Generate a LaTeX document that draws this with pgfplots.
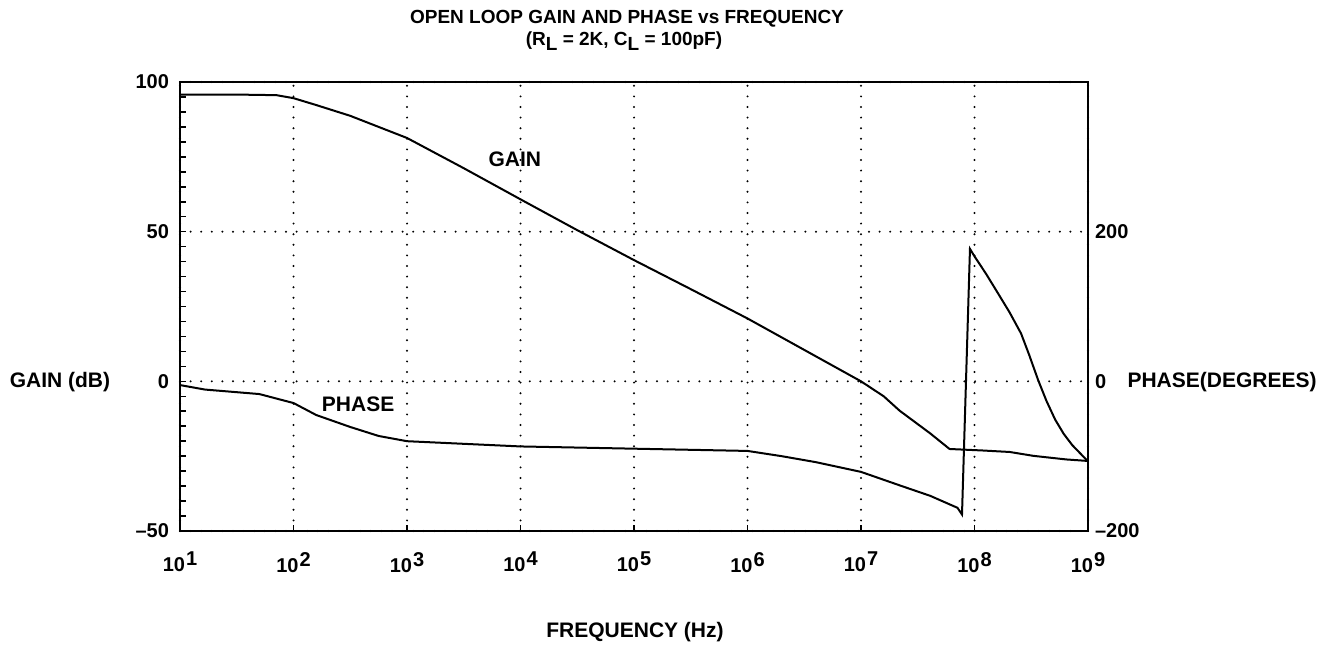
\documentclass[border=0pt]{standalone}
\usepackage{fontspec}
\setmainfont{Liberation Sans}
\usepackage{pgfplots}
\pgfplotsset{compat=1.18}
\newcommand{\tf}{\fontsize{10}{11}\selectfont\bfseries}
\newcommand{\lf}{\fontsize{10.5}{12}\selectfont\bfseries}
\newcommand{\ttf}{\fontsize{9.5}{11}\selectfont\bfseries}
\newcommand{\dec}[1]{10\kern0.5pt\raisebox{3pt}{#1}}
\begin{document}
\begin{tikzpicture}
\path[use as bounding box] (-90pt,-58pt) rectangle (578pt,265.5pt);
\begin{semilogxaxis}[
  at={(0pt,0pt)}, anchor=south west,
  scale only axis, width=454pt, height=224.5pt,
  xmin=10, xmax=1e9, ymin=-50, ymax=100,
  xtick={1e1,1e2,1e3,1e4,1e5,1e6,1e7,1e8,1e9},
  xticklabels={\dec{1},\dec{2},\dec{3},\dec{4},\dec{5},\dec{6},\dec{7},\dec{8},\dec{9}},
  xminorticks=false,
  ytick={-50,0,50,100},
  yticklabels={--50,0,50,100},
  minor ytick={-45,-40,...,95},
  xtick pos=bottom, ytick pos=left, tick align=inside,
  major tick length=3pt, minor tick length=3pt,
  every tick/.style={black, line width=0.8pt},
  xmajorgrids, ymajorgrids,
  major grid style={black, line width=1.1pt, dash pattern=on 0pt off 5.3pt, line cap=round},
  axis line style={line width=1.2pt},
  ticklabel style={font=\tf},
  xticklabel style={yshift=-7pt},
  yticklabel style={xshift=-2pt},
]
\addplot[black, line width=1pt] coordinates {
(10,95.8) (31.6,95.8) (70.8,95.6) (100,94.6) (158.5,92.3) (316.2,88.7) (562,85) (1000,81.3)
(3162,71.2) (1e4,60.8) (3.162e4,50.5) (1e5,40.5) (3.162e5,30.8) (1e6,21) (3.162e6,10.5)
(1e7,0) (1.585e7,-5) (2.188e7,-9.8) (4.074e7,-17.4) (6.026e7,-22.6) (1.175e8,-23.1)
(2.042e8,-23.6) (3.311e8,-24.9) (6.457e8,-26.1) (1e9,-26.6)
};
\node[font=\lf] at (axis cs:8900,74.3) {GAIN};
\node[font=\lf] at (axis cs:371,-7.7) {PHASE};
\end{semilogxaxis}
\begin{semilogxaxis}[
  at={(0pt,0pt)}, anchor=south west,
  scale only axis, width=454pt, height=224.5pt,
  xmin=10, xmax=1e9, ymin=-200, ymax=400,
  axis x line=none, axis y line*=right,
  ytick={-200,0,200}, yticklabels={--200,0,200},
  ytick style={draw=none},
  y axis line style={line width=1.2pt},
  ticklabel style={font=\tf},
]
\addplot[black, line width=1pt] coordinates {
(10,-5) (16.6,-11) (50,-17) (100,-29) (158.5,-45) (316.2,-61) (562,-73) (1000,-80)
(1e4,-87) (1e5,-90) (1e6,-93) (2e6,-100) (4e6,-108) (1e7,-121) (2.19e7,-139)
(4.07e7,-153) (7.08e7,-169) (7.76e7,-178) (9.12e7,177) (1e8,167) (1.26e8,144) (1.62e8,117)
(2.04e8,92) (2.57e8,64) (3.02e8,36) (3.63e8,2) (4.3e8,-26) (5.13e8,-51) (6.1e8,-70) (7.24e8,-85) (1e9,-107)
};
\end{semilogxaxis}
\node[font=\ttf] at (223.5pt,256pt) {OPEN LOOP GAIN AND PHASE vs FREQUENCY};
\node[font=\ttf] at (222pt,245pt) {(R\raisebox{-2.5pt}{L} = 2K, C\raisebox{-2.5pt}{L} = 100pF)};
\node[font=\lf] at (-60pt,74.5pt) {GAIN (dB)};
\node[font=\lf] at (521pt,74.5pt) {PHASE(DEGREES)};
\node[font=\lf] at (227.5pt,-50.5pt) {FREQUENCY (Hz)};
\end{tikzpicture}
\end{document}
